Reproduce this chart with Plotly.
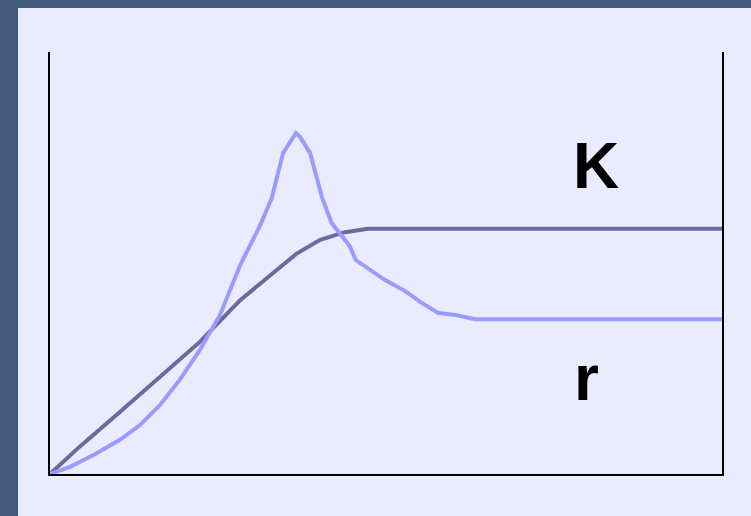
import plotly.graph_objects as go

# K curve (logistic growth, dark)
k_x = [0, 4.5, 10.4, 16.4, 22.3, 28.3, 34.2, 36.6, 40.2, 43.9, 47.3, 100]
k_y = [0, 6.6, 14.7, 23.0, 31.3, 41.2, 48.8, 52.1, 55.5, 57.3, 58.1, 58.1]

# r curve (overshoot, light)
r_x = [0, 3.0, 6.7, 10.4, 13.4, 16.4, 19.3, 22.3, 25.3, 28.3, 31.3, 33.0, 34.7,
       36.6, 37.2, 38.7, 40.5, 41.9, 43.2, 44.6, 45.5, 47.6, 49.8, 52.8, 55.1,
       57.7, 60.3, 63.2, 100]
r_y = [0, 1.7, 4.7, 8.1, 11.6, 16.4, 22.3, 29.4, 37.7, 49.5, 59.0, 65.4, 76.1,
       80.8, 79.9, 76.1, 65.4, 59.5, 56.9, 54.0, 50.7, 48.3, 46.0, 43.4, 40.8,
       38.2, 37.7, 36.7, 36.7]

labels = ["K", "r"]
label_x = [81.2, 79.8]
label_y = [73.0, 22.7]

fig = go.Figure()
fig.add_trace(go.Scatter(x=k_x, y=k_y, mode="lines",
                         line=dict(color="#6A6A9C", width=4), hoverinfo="skip"))
fig.add_trace(go.Scatter(x=r_x, y=r_y, mode="lines",
                         line=dict(color="#9A9AFF", width=4), hoverinfo="skip"))

for t, x, y in zip(labels, label_x, label_y):
    fig.add_annotation(x=x, y=y, text="<b>%s</b>" % t, showarrow=False,
                       font=dict(family="Liberation Sans, Arial", size=64, color="#000000"),
                       xanchor="center", yanchor="middle")

W, H = 751, 516
ml, mr, mt, mb = 50, 29, 52, 42
pw, ph = W - ml - mr, H - mt - mb
fig.add_shape(type="rect", xref="paper", yref="paper",
              x0=(18 - ml) / pw, x1=(W - ml) / pw + 0.01,
              y0=-(mb + 5) / ph, y1=(H - 8 - mb) / ph,
              fillcolor="#EAEBFF", line=dict(width=0), layer="below")

fig.update_layout(
    width=W, height=H,
    margin=dict(l=ml, r=mr, t=mt, b=mb),
    paper_bgcolor="#465A79", plot_bgcolor="#EAEBFF",
    showlegend=False,
    xaxis=dict(range=[0, 100], showgrid=False, zeroline=False, showticklabels=False,
               ticks="", showline=True, linecolor="#000000", linewidth=2, mirror=False),
    yaxis=dict(range=[0, 100], showgrid=False, zeroline=False, showticklabels=False,
               ticks="", showline=True, linecolor="#000000", linewidth=2, mirror=True),
)

fig.write_html("out.html", config={"displayModeBar": False},
               post_script="document.body.style.margin='0';document.body.style.overflow='hidden';")
